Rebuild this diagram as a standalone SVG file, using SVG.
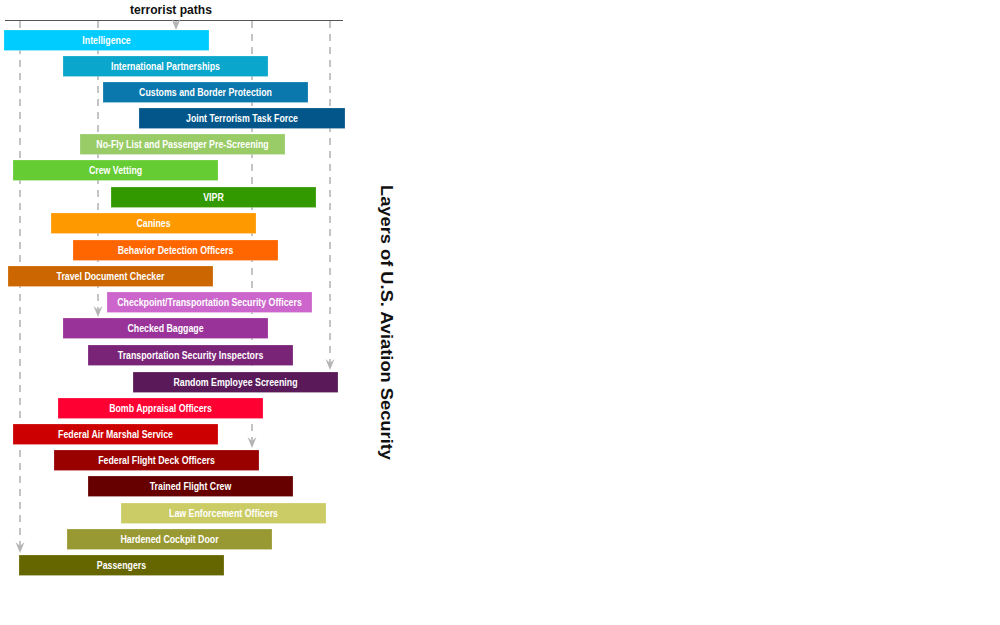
<svg xmlns="http://www.w3.org/2000/svg" width="1000" height="625" viewBox="0 0 1000 625">
<style>
.bar text{font-family:"Liberation Sans",Arial,sans-serif;font-weight:bold;font-size:10px;fill:#fff;text-anchor:middle}
.bar rect{height:20.5px;stroke:#fff;stroke-opacity:0.4;stroke-width:0.5}
.path{stroke:#c4c4c4;stroke-width:2;stroke-dasharray:7 6;fill:none}
.title{font-family:"Liberation Sans",Arial,sans-serif;font-weight:bold;font-size:13px;fill:#111;text-anchor:middle}
.side{font-family:"Liberation Sans",Arial,sans-serif;font-weight:bold;font-size:16px;fill:#111}
</style>
<defs>
<marker id="ah" markerUnits="userSpaceOnUse" markerWidth="12" markerHeight="10" refX="11" refY="4.5" orient="auto" viewBox="0 0 12 10">
<path d="M0,0 L11,4.5 L0,9 L4,4.5 Z" fill="#b4b4b4"/>
</marker>
</defs>
<rect width="1000" height="625" fill="#fff"/>
<g id="header">
<text class="title" transform="translate(171,14) scale(0.93,1)">terrorist paths</text>
<line x1="5" y1="20.5" x2="343" y2="20.5" stroke="#555" stroke-width="1"/>
</g>
<g id="connectors">
<line class="path" x1="20" y1="21" x2="20" y2="553" marker-end="url(#ah)"/>
<line class="path" x1="98" y1="21" x2="98" y2="317" marker-end="url(#ah)"/>
<line class="path" x1="176" y1="21" x2="176" y2="30" marker-end="url(#ah)" stroke-dasharray="none"/>
<line class="path" x1="252" y1="21" x2="252" y2="448" marker-end="url(#ah)"/>
<line class="path" x1="330" y1="21" x2="330" y2="370" marker-end="url(#ah)"/>
</g>
<g id="n1" class="bar"><rect x="4" y="30" width="205" fill="#00CCFF"/><text transform="translate(106.5,44) scale(0.88,1)">Intelligence</text></g>
<g id="n2" class="bar"><rect x="63" y="56" width="205" fill="#0AA6CB"/><text transform="translate(165.5,70) scale(0.88,1)">International Partnerships</text></g>
<g id="n3" class="bar"><rect x="103" y="82" width="205" fill="#0A78AD"/><text transform="translate(205.5,96) scale(0.88,1)">Customs and Border Protection</text></g>
<g id="n4" class="bar"><rect x="139" y="108" width="206" fill="#03568A"/><text transform="translate(242,122) scale(0.88,1)">Joint Terrorism Task Force</text></g>
<g id="n5" class="bar"><rect x="80" y="134" width="205" fill="#99CC66"/><text transform="translate(182.5,148) scale(0.88,1)">No-Fly List and Passenger Pre-Screening</text></g>
<g id="n6" class="bar"><rect x="13" y="160" width="205" fill="#66CC33"/><text transform="translate(115.5,174) scale(0.88,1)">Crew Vetting</text></g>
<g id="n7" class="bar"><rect x="111" y="187" width="205" fill="#339900"/><text transform="translate(213.5,201) scale(0.88,1)">VIPR</text></g>
<g id="n8" class="bar"><rect x="51" y="213" width="205" fill="#FF9900"/><text transform="translate(153.5,227) scale(0.88,1)">Canines</text></g>
<g id="n9" class="bar"><rect x="73" y="240" width="205" fill="#FF6600"/><text transform="translate(175.5,254) scale(0.88,1)">Behavior Detection Officers</text></g>
<g id="n10" class="bar"><rect x="8" y="266" width="205" fill="#CC6600"/><text transform="translate(110.5,280) scale(0.88,1)">Travel Document Checker</text></g>
<g id="n11" class="bar"><rect x="107" y="292" width="205" fill="#CC66CC"/><text transform="translate(209.5,306) scale(0.88,1)">Checkpoint/Transportation Security Officers</text></g>
<g id="n12" class="bar"><rect x="63" y="318" width="205" fill="#993399"/><text transform="translate(165.5,332) scale(0.88,1)">Checked Baggage</text></g>
<g id="n13" class="bar"><rect x="88" y="345" width="205" fill="#7A2478"/><text transform="translate(190.5,359) scale(0.88,1)">Transportation Security Inspectors</text></g>
<g id="n14" class="bar"><rect x="133" y="372" width="205" fill="#5A1A5A"/><text transform="translate(235.5,386) scale(0.88,1)">Random Employee Screening</text></g>
<g id="n15" class="bar"><rect x="58" y="398" width="205" fill="#FF0033"/><text transform="translate(160.5,412) scale(0.88,1)">Bomb Appraisal Officers</text></g>
<g id="n16" class="bar"><rect x="13" y="424" width="205" fill="#CC0000"/><text transform="translate(115.5,438) scale(0.88,1)">Federal Air Marshal Service</text></g>
<g id="n17" class="bar"><rect x="54" y="450" width="205" fill="#990000"/><text transform="translate(156.5,464) scale(0.88,1)">Federal Flight Deck Officers</text></g>
<g id="n18" class="bar"><rect x="88" y="476" width="205" fill="#660000"/><text transform="translate(190.5,490) scale(0.88,1)">Trained Flight Crew</text></g>
<g id="n19" class="bar"><rect x="121" y="503" width="205" fill="#CCCC66"/><text transform="translate(223.5,517) scale(0.88,1)">Law Enforcement Officers</text></g>
<g id="n20" class="bar"><rect x="67" y="529" width="205" fill="#999933"/><text transform="translate(169.5,543) scale(0.88,1)">Hardened Cockpit Door</text></g>
<g id="n21" class="bar"><rect x="19" y="555" width="205" fill="#666600"/><text transform="translate(121.5,569) scale(0.88,1)">Passengers</text></g>
<g id="side-title">
<text class="side" transform="translate(381,185) rotate(90)" textLength="275" lengthAdjust="spacingAndGlyphs">Layers of U.S. Aviation Security</text>
</g>
</svg>
